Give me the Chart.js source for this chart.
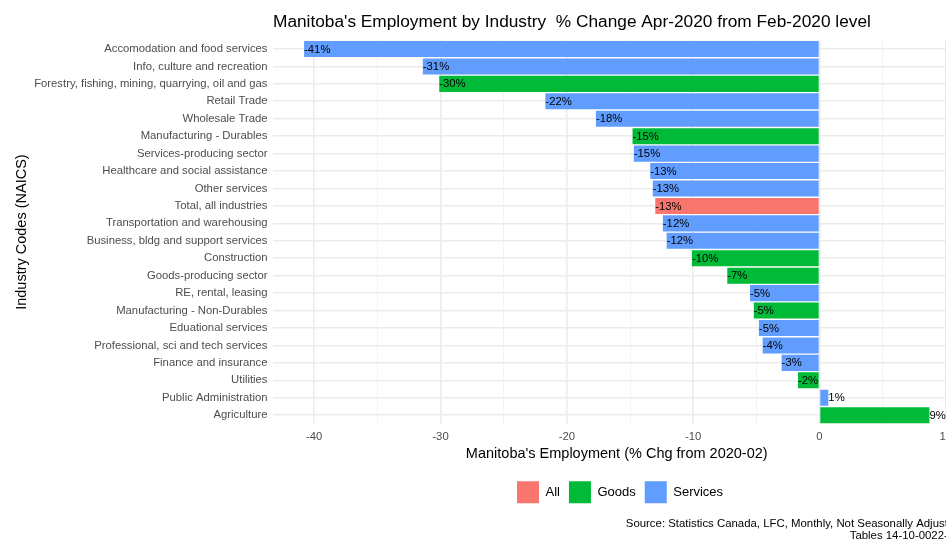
<!DOCTYPE html>
<html><head><meta charset="utf-8">
<script src="https://cdn.jsdelivr.net/npm/chart.js@4.4.0/dist/chart.umd.min.js"></script>
<style>
html,body{margin:0;padding:0;background:#fff;overflow:hidden;}
#wrap{width:946px;height:540px;overflow:hidden;position:relative;background:#fff;}
canvas{display:block;}
</style></head><body>
<div id="wrap"><canvas id="c" width="1000" height="540"></canvas></div>
<script>
const categories = [
  'Accomodation and food services',
  'Info, culture and recreation',
  'Forestry, fishing, mining, quarrying, oil and gas',
  'Retail Trade',
  'Wholesale Trade',
  'Manufacturing - Durables',
  'Services-producing sector',
  'Healthcare and social assistance',
  'Other services',
  'Total, all industries',
  'Transportation and warehousing',
  'Business, bldg and support services',
  'Construction',
  'Goods-producing sector',
  'RE, rental, leasing',
  'Manufacturing - Non-Durables',
  'Eduational services',
  'Professional, sci and tech services',
  'Finance and insurance',
  'Utilities',
  'Public Administration',
  'Agriculture'
];
const sectorGroup = [
  'Services','Services','Goods','Services','Services','Goods','Services','Services','Services','All',
  'Services','Services','Goods','Goods','Services','Goods','Services','Services','Services','Goods',
  'Services','Goods'
];
const pctChange = [
  -40.8, -31.4, -30.1, -21.7, -17.7, -14.8, -14.7, -13.4, -13.2, -13.0,
  -12.4, -12.1, -10.1, -7.3, -5.5, -5.2, -4.8, -4.5, -3.0, -1.7,
  0.7, 8.7
];
const groups = ['All', 'Goods', 'Services'];
const groupColors = ['#F8766D', '#00BA38', '#619CFF'];
const xTicks = [-40, -35, -30, -25, -20, -15, -10, -5, 0, 5, 10];
const chartTitle = "Manitoba's Employment by Industry  % Change Apr-2020 from Feb-2020 level";
const xTitle = "Manitoba's Employment (% Chg from 2020-02)";
const yTitle = 'Industry Codes (NAICS)';
const caption = ['Source: Statistics Canada, LFC, Monthly, Not Seasonally Adjusted', 'Tables 14-10-0022-01'];

Chart.defaults.font.family = "'Liberation Sans', Arial, sans-serif";

const datasets = groups.map((g, gi) => ({
  label: g,
  data: pctChange.map((v, i) => sectorGroup[i] === g ? v : null),
  backgroundColor: groupColors[gi],
  borderWidth: 0,
  barPercentage: 0.92,
  categoryPercentage: 1.0
}));

const dataLabels = {
  id: 'dataLabels',
  afterDatasetsDraw(chart) {
    const ctx = chart.ctx;
    ctx.save();
    ctx.font = "11.3px 'Liberation Sans', Arial, sans-serif";
    ctx.fillStyle = '#000';
    ctx.textAlign = 'left';
    ctx.textBaseline = 'middle';
    chart.data.datasets.forEach((ds, di) => {
      const meta = chart.getDatasetMeta(di);
      ds.data.forEach((v, i) => {
        if (v === null) return;
        const el = meta.data[i];
        ctx.fillText(Math.round(v) + '%', el.x, el.y + 0.5);
      });
    });
    ctx.restore();
  }
};

const legendShift = {
  id: 'legendShift',
  afterLayout(chart) {
    if (chart.legend) { chart.legend.left += 3.3; chart.legend.right += 3.3; }
  }
};

const xMin = -43.26, xMax = 11.16;

new Chart(document.getElementById('c'), {
  type: 'bar',
  data: { labels: categories, datasets },
  options: {
    indexAxis: 'y',
    responsive: false,
    animation: false,
    devicePixelRatio: 1,
    layout: { padding: { left: 0, right: 39.5, top: 1, bottom: 0 } },
    scales: {
      x: {
        type: 'linear',
        stacked: true,
        min: xMin,
        max: xMax,
        afterBuildTicks: (s) => { s.ticks = xTicks.map(v => ({ value: v })); },
        ticks: {
          autoSkip: false,
          maxRotation: 0,
          padding: 6,
          color: '#4D4D4D',
          font: { size: 11.3 },
          callback: (v) => (v % 10 === 0 ? String(v) : '')
        },
        grid: {
          drawTicks: false,
          color: (ctx) => (ctx.tick && ctx.tick.value % 10 === 0 ? '#EBEBEB' : '#F2F2F2'),
          lineWidth: (ctx) => (ctx.tick && ctx.tick.value % 10 === 0 ? 1.6 : 0.9)
        },
        border: { display: false },
        title: {
          display: true,
          text: xTitle,
          color: '#000',
          font: { size: 14.5 },
          padding: { top: -4.6, bottom: 10.1 }
        }
      },
      y: {
        stacked: true,
        afterFit: (s) => { s.width = 273; },
        ticks: {
          autoSkip: false,
          padding: 5.5,
          color: '#4D4D4D',
          font: { size: 11.3 }
        },
        grid: {
          offset: false,
          drawTicks: false,
          color: '#EBEBEB',
          lineWidth: 1.6
        },
        border: { display: false },
        title: {
          display: true,
          text: yTitle,
          color: '#000',
          font: { size: 14.5 },
          padding: { top: 13, bottom: 0 }
        }
      }
    },
    plugins: {
      title: {
        display: true,
        text: chartTitle,
        align: 'start',
        fullSize: false,
        color: '#000',
        font: { size: 17.3, weight: 'normal' },
        padding: { top: 11, bottom: 7.5 }
      },
      subtitle: {
        display: true,
        text: caption,
        position: 'bottom',
        align: 'end',
        fullSize: false,
        color: '#000',
        font: { size: 11.4, lineHeight: 1.05 },
        padding: { top: 4.7, bottom: -2 }
      },
      legend: {
        position: 'bottom',
        fullSize: false,
        labels: {
          boxWidth: 22,
          boxHeight: 22,
          padding: 9,
          color: '#000',
          font: { size: 13 }
        }
      },
      tooltip: { enabled: false }
    }
  },
  plugins: [dataLabels, legendShift]
});
</script>
</body></html>
